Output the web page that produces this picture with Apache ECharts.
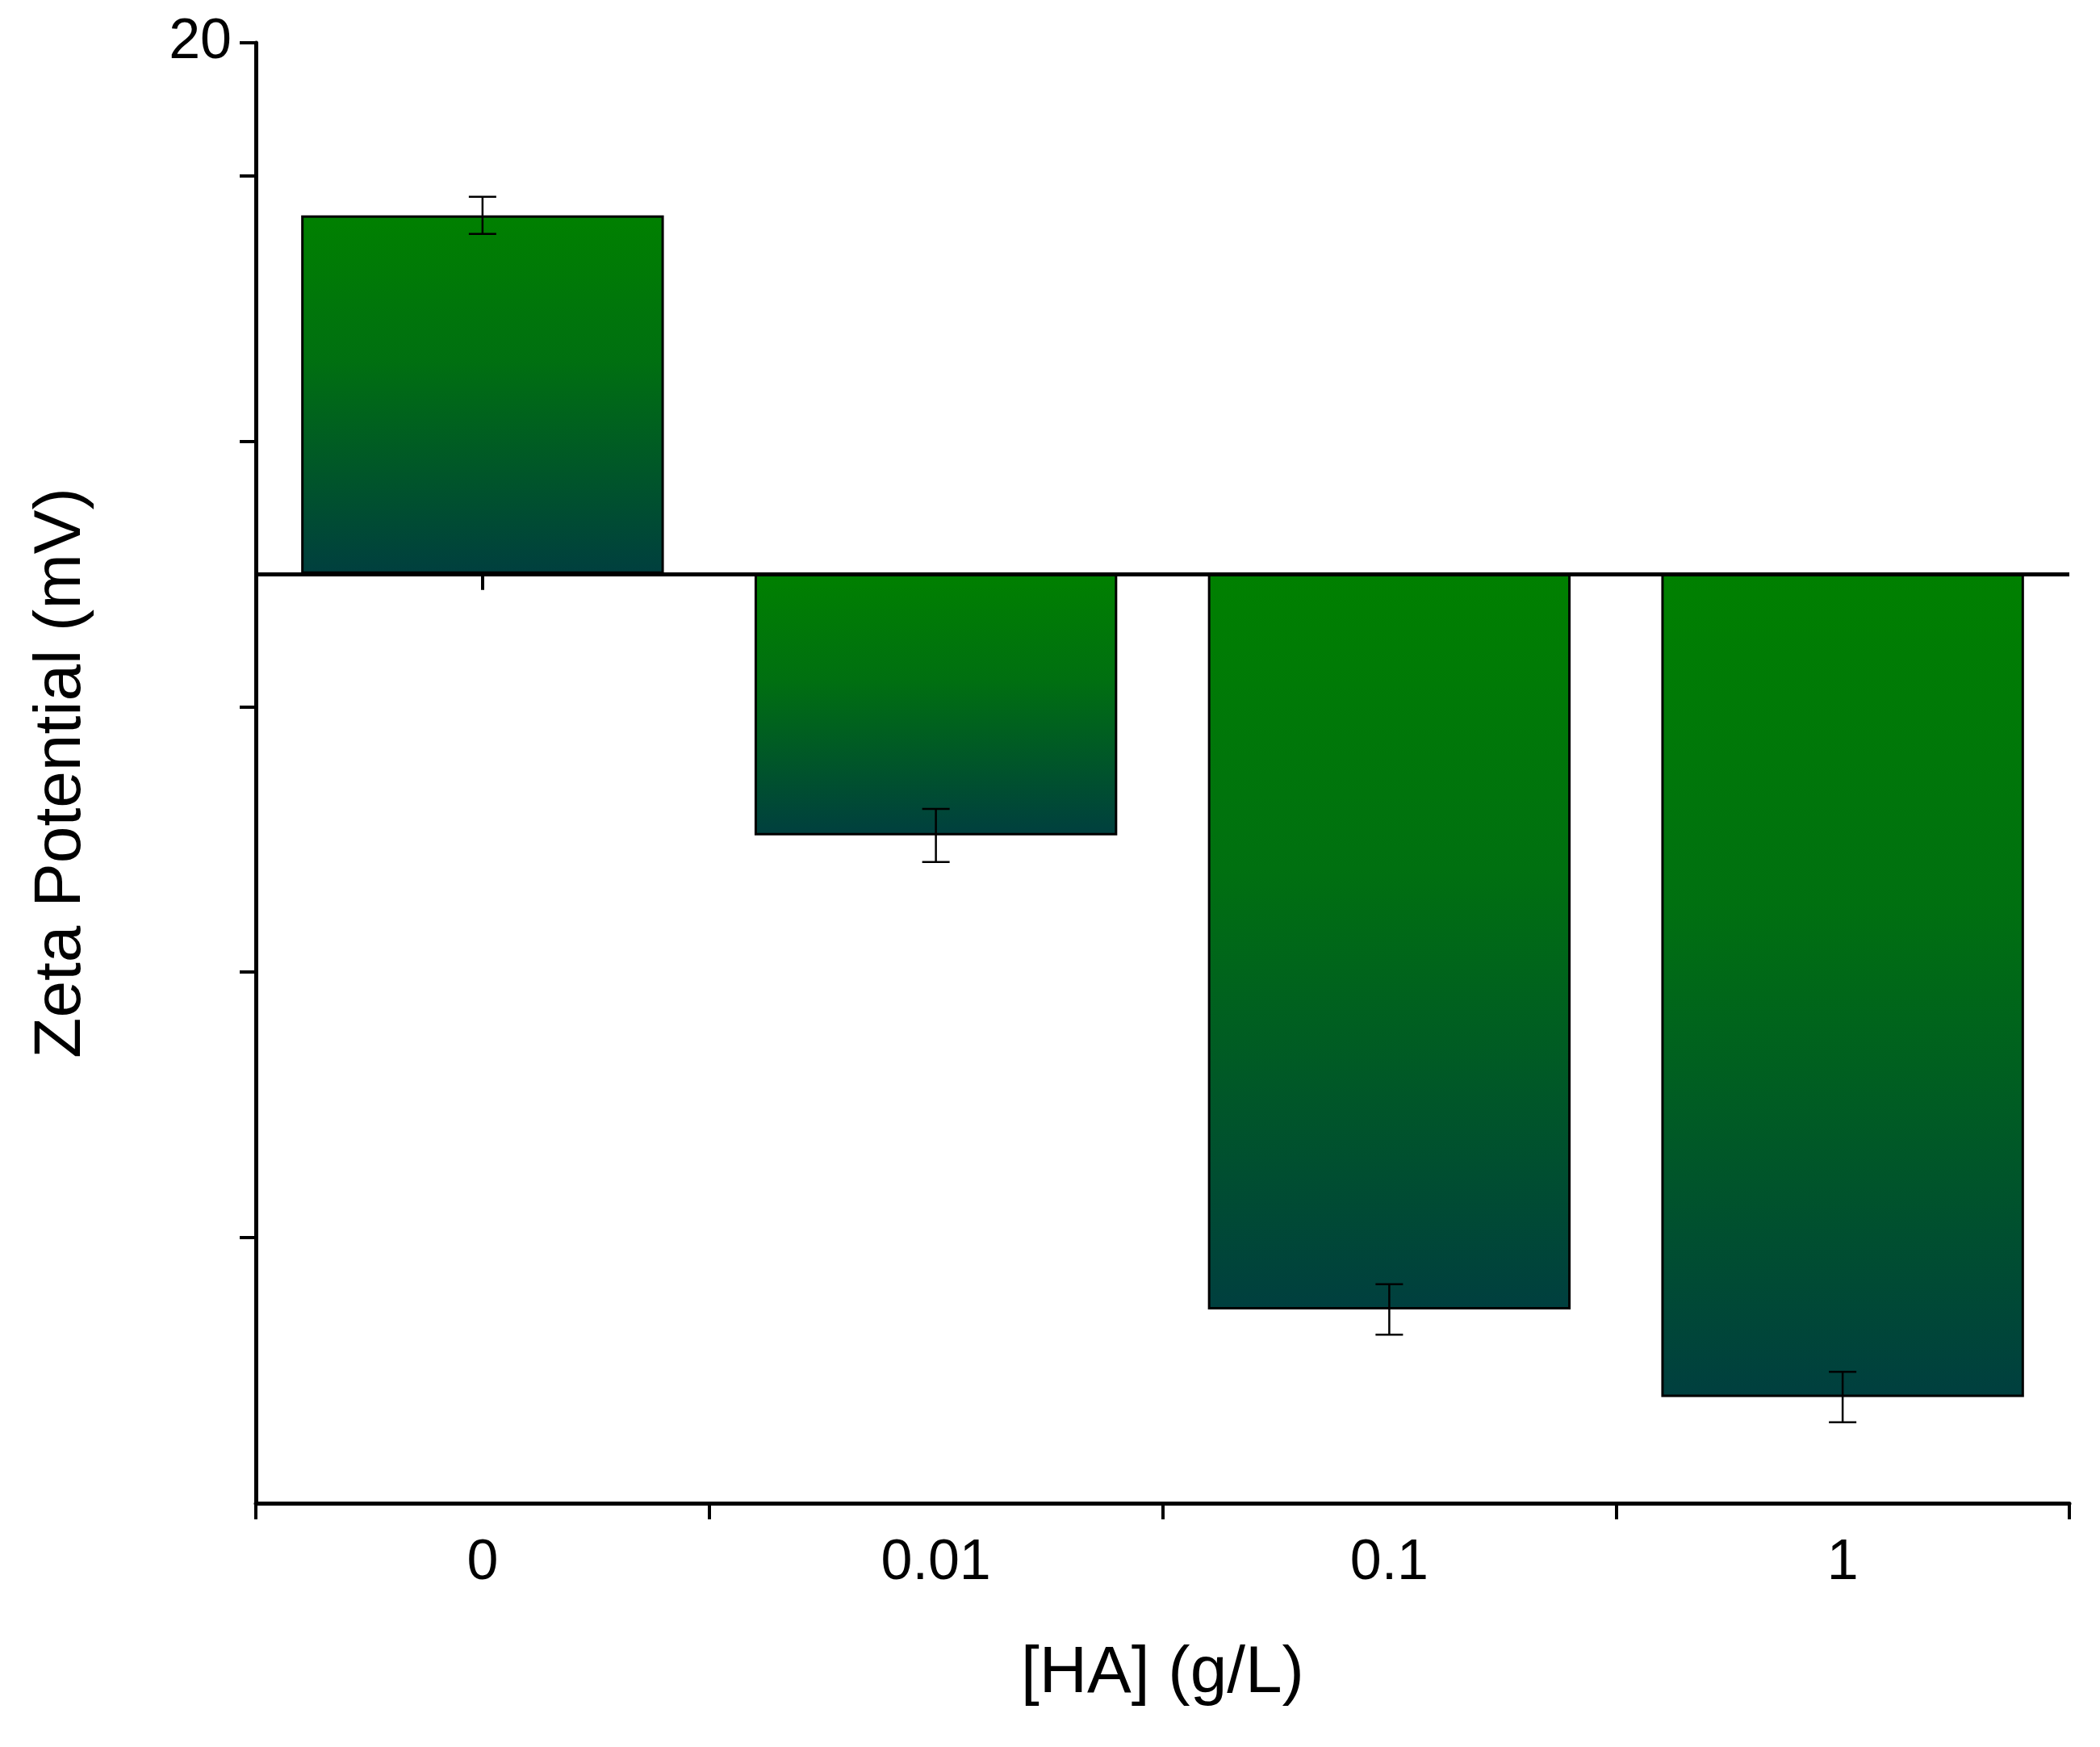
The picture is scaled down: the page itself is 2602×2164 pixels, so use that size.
<!DOCTYPE html>
<html><head><meta charset="utf-8">
<script src="https://cdn.jsdelivr.net/npm/echarts@6/dist/echarts.min.js"></script>
<style>html,body{margin:0;padding:0;background:#fff}#c{width:2602px;height:2164px}</style>
</head><body><div id="c"></div>
<script>
const categories = ['0', '0.01', '0.1', '1'];
const zeta = [13.5, -9.85, -27.7, -31.0];
const errs = [0.7, 1.0, 0.95, 0.95];
const yTicks = [-35, 20, 10];

const chart = echarts.init(document.getElementById('c'));
const font = 'Arial, "Liberation Sans", sans-serif';
const axisLine = {lineStyle:{color:'#000', width:5}};
chart.setOption({
  animation:false,
  grid:{left:317, right:38, top:53, bottom:302},
  xAxis:[{
    type:'category', data:categories, position:'bottom',
    axisLine:{onZero:false, ...axisLine},
    axisTick:{show:true, length:20, inside:false, lineStyle:{width:4,color:'#000'}},
    axisLabel:{fontSize:70, fontFamily:font, color:'#000', margin:40},
    name:'[HA] (g/L)', nameLocation:'middle', nameGap:170,
    nameTextStyle:{fontSize:82, fontFamily:font, color:'#000'}
  },{
    type:'category', data:categories, position:'bottom',
    axisLine:{show:false},
    axisTick:{show:true, alignWithLabel:true, length:20, lineStyle:{width:4,color:'#000'}},
    axisLabel:{show:false}
  }],
  yAxis:{
    type:'value', min:yTicks[0], max:yTicks[1], interval:yTicks[2],
    axisLine:{show:true, ...axisLine},
    axisTick:{show:true, length:20, lineStyle:{width:4,color:'#000'}},
    splitLine:{show:false},
    axisLabel:{fontSize:70, fontFamily:font, color:'#000', margin:30,
      formatter:v=> (v%20===0 ? String(v) : ''), showMinLabel:false},
    name:'Zeta Potential (mV)', nameLocation:'middle', nameGap:200,
    nameTextStyle:{fontSize:82, fontFamily:font, color:'#000'}
  },
  series:[{
    type:'bar', data:zeta, barWidth:'80%',
    itemStyle:{borderColor:'#000', borderWidth:3,
      color:new echarts.graphic.LinearGradient(0,0,0,1,[
        {offset:0,color:'#008000'},{offset:0.4,color:'#007010'},{offset:1,color:'#003f3f'}])},
    markLine:{silent:true, symbol:'none', label:{show:false},
      lineStyle:{color:'#000', width:5, type:'solid'}, data:[{yAxis:0}]}
  },{
    type:'custom', data:zeta.map((v,i)=>[i, v-errs[i], v+errs[i]]),
    renderItem:(p,api)=>{
      const lo=api.coord([api.value(0),api.value(1)]);
      const hi=api.coord([api.value(0),api.value(2)]);
      const w=17, st={stroke:'#000', lineWidth:2.5};
      return {type:'group', children:[
        {type:'line', shape:{x1:lo[0],y1:lo[1],x2:hi[0],y2:hi[1]}, style:st},
        {type:'line', shape:{x1:lo[0]-w,y1:lo[1],x2:lo[0]+w,y2:lo[1]}, style:st},
        {type:'line', shape:{x1:hi[0]-w,y1:hi[1],x2:hi[0]+w,y2:hi[1]}, style:st}
      ]};
    }, z:10
  }]
});
</script></body></html>
